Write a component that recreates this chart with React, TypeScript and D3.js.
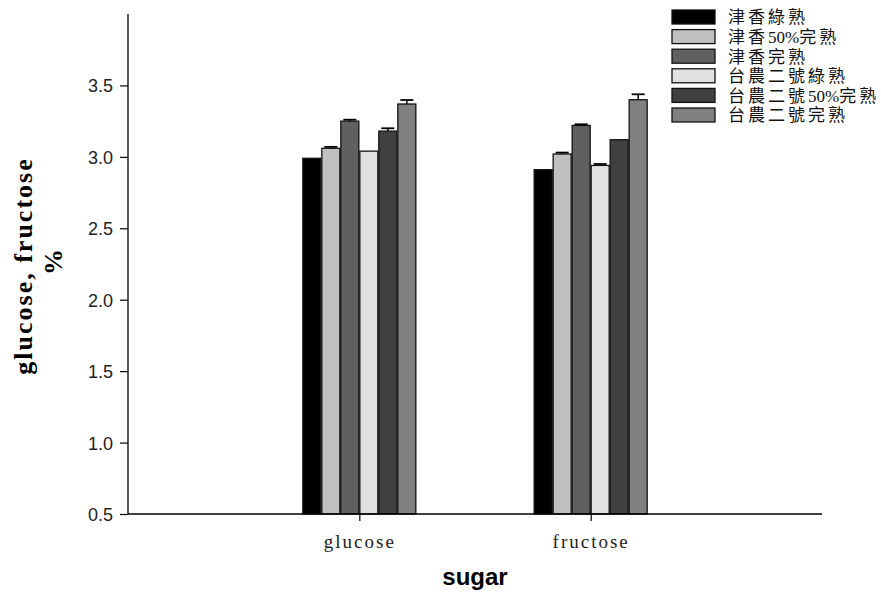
import React, { useRef, useEffect } from 'react';
import * as d3 from 'd3';

const categories = ['glucose', 'fructose'];
const seriesNames = ['津香綠熟', '津香50%完熟', '津香完熟', '台農二號綠熟', '台農二號50%完熟', '台農二號完熟'];
const seriesColors = ['#000000', '#c0c0c0', '#606060', '#e0e0e0', '#404040', '#808080'];
// values per series: [glucose, fructose]
const glucoseValues = [2.99, 3.06, 3.25, 3.04, 3.18, 3.37];
const fructoseValues = [2.91, 3.02, 3.22, 2.94, 3.12, 3.40];
const glucoseErrors = [0, 0.01, 0.01, 0, 0.02, 0.028];
const fructoseErrors = [0, 0.01, 0.008, 0.01, 0, 0.038];
const yTicks = [0.5, 1.0, 1.5, 2.0, 2.5, 3.0, 3.5];

const W = 881;
const H = 596;
const margin = { left: 128, right: 59, top: 14, bottom: 82 };

const isCJK = (ch: string) => /[\u3400-\u9fff]/.test(ch);

const App = () => {
  const svgRef = useRef<SVGSVGElement>(null);

  useEffect(() => {
    const svg = d3.select(svgRef.current);
    svg.selectAll('*').remove();

    const x0 = margin.left;
    const x1 = W - margin.right;
    const y0 = H - margin.bottom;
    const y1 = margin.top;

    const yScale = d3.scaleLinear().domain([0.5, 4.0]).range([y0, y1]);
    const xScale = d3.scalePoint().domain(categories).range([x0, x1]).padding(1);
    const inner = d3.scaleBand().domain(seriesNames).range([-57, 57]).padding(0);

    const rows = categories.map((c, ci) => ({
      cat: c,
      vals: ci === 0 ? glucoseValues : fructoseValues,
      errs: ci === 0 ? glucoseErrors : fructoseErrors,
    }));

    const plot = svg.append('g');

    rows.forEach((row) => {
      const g = plot.append('g').attr('transform', `translate(${xScale(row.cat)},0)`);
      seriesNames.forEach((s, si) => {
        const v = row.vals[si];
        const e = row.errs[si];
        const bx = inner(s)!;
        if (e > 0) {
          const cx = bx + inner.bandwidth() / 2;
          g.append('line')
            .attr('x1', cx).attr('x2', cx)
            .attr('y1', yScale(v)).attr('y2', yScale(v + e))
            .attr('stroke', '#000').attr('stroke-width', 1.5);
          g.append('line')
            .attr('x1', cx - 6.5).attr('x2', cx + 6.5)
            .attr('y1', yScale(v + e)).attr('y2', yScale(v + e))
            .attr('stroke', '#000').attr('stroke-width', 1.8);
        }
        g.append('rect')
          .attr('x', bx + 0.5)
          .attr('y', yScale(v))
          .attr('width', inner.bandwidth() - 1)
          .attr('height', y0 - yScale(v))
          .attr('fill', seriesColors[si])
          .attr('stroke', '#111')
          .attr('stroke-width', 1.3);
      });
    });

    // y axis
    const yAxis = d3.axisLeft(yScale).tickValues(yTicks).tickSize(8).tickSizeOuter(0)
      .tickFormat(d3.format('.1f'));
    const yg = svg.append('g').attr('transform', `translate(${x0},0)`).call(yAxis);
    yg.select('.domain').attr('stroke', '#000').attr('stroke-width', 1.3)
      .attr('d', `M0,${y0}V${y1}`);
    yg.selectAll('.tick line').attr('stroke', '#000').attr('stroke-width', 1.2);
    yg.selectAll('.tick text')
      .attr('font-family', 'Liberation Sans, Arial, sans-serif')
      .attr('font-size', 18)
      .attr('fill', '#222')
      .attr('x', -15)
      .attr('dy', '0.36em');

    // x axis
    const xAxis = d3.axisBottom(xScale).tickSize(7).tickSizeOuter(0);
    const xg = svg.append('g').attr('transform', `translate(0,${y0})`).call(xAxis);
    xg.select('.domain').attr('stroke', '#000').attr('stroke-width', 1.3)
      .attr('d', `M${x0},0H${x1}`);
    xg.selectAll('.tick line').attr('stroke', '#000').attr('stroke-width', 1.2);
    xg.selectAll('.tick text')
      .attr('font-family', 'Liberation Serif, DejaVu Serif, serif')
      .attr('font-size', 19)
      .attr('letter-spacing', 2)
      .attr('fill', '#222')
      .attr('y', 34)
      .attr('dy', 0);

    // axis titles
    svg.append('text')
      .attr('x', (x0 + x1) / 2)
      .attr('y', 585)
      .attr('text-anchor', 'middle')
      .attr('font-family', 'Liberation Sans, Arial, sans-serif')
      .attr('font-weight', 'bold')
      .attr('font-size', 24)
      .text('sugar');

    const yt = svg.append('g').attr('transform', `translate(0,${266}) rotate(-90)`);
    yt.append('text')
      .attr('x', 0).attr('y', 32)
      .attr('text-anchor', 'middle')
      .attr('font-family', 'Liberation Serif, Times New Roman, serif')
      .attr('font-weight', 'bold')
      .attr('font-size', 26)
      .attr('letter-spacing', 2)
      .text('glucose, fructose');
    yt.append('text')
      .attr('x', 4).attr('y', 62)
      .attr('text-anchor', 'middle')
      .attr('font-family', 'Liberation Serif, Times New Roman, serif')
      .attr('font-weight', 'bold')
      .attr('font-size', 26)
      .text('%');

    // legend
    const legend = svg.append('g').attr('transform', 'translate(672,10)');
    seriesNames.forEach((s, i) => {
      const ly = i * 19.6;
      legend.append('rect')
        .attr('x', 0).attr('y', ly)
        .attr('width', 43).attr('height', 14)
        .attr('fill', seriesColors[i])
        .attr('stroke', '#111').attr('stroke-width', 1.3);
      const t = legend.append('text')
        .attr('x', 56).attr('y', ly + 7)
        .attr('dy', '0.38em')
        .attr('font-family', 'Liberation Serif, Noto Sans CJK TC, serif')
        .attr('font-size', 17)
        .attr('fill', '#111');
      Array.from(s).forEach((ch) => {
        t.append('tspan')
          .attr('letter-spacing', isCJK(ch) ? 3 : 0)
          .text(ch);
      });
    });
  }, []);

  return (
    <svg
      ref={svgRef}
      width={W}
      height={H}
      style={{ position: 'absolute', left: 0, top: 0, background: '#fff' }}
    />
  );
};

export default App;
